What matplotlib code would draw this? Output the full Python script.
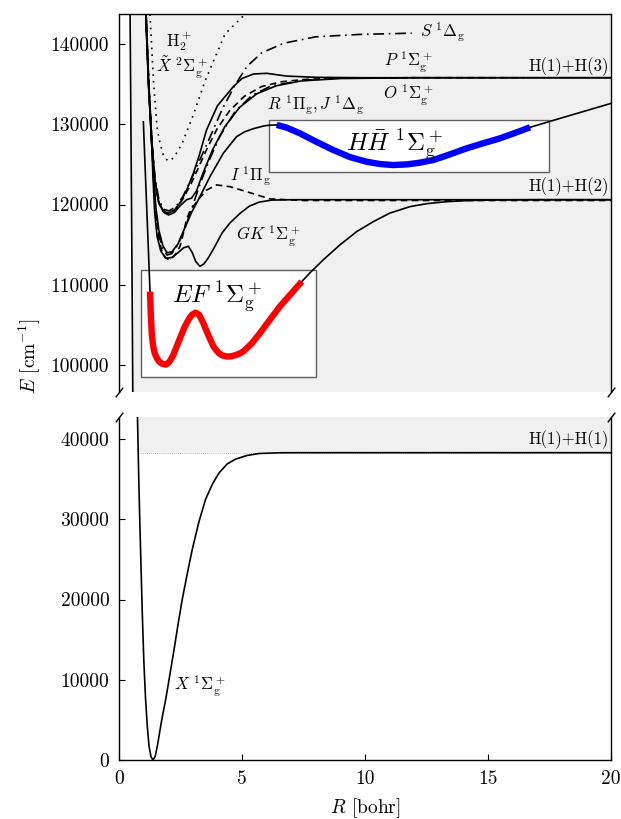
import numpy as np
import matplotlib
matplotlib.use("Agg")
import matplotlib.pyplot as plt
from matplotlib.patches import Rectangle

plt.rcParams.update({
    "font.family": "serif",
    "font.serif": ["cmr10"],
    "mathtext.fontset": "cm",
    "axes.formatter.use_mathtext": True,
    "axes.unicode_minus": False,
    "font.size": 14,
})

# Dissociation limits [cm^-1]
D_11 = 38300.0     # H(1)+H(1)

# Ground state X 1Sigma_g+
X_R = [0.40, 0.45, 0.49, 0.53, 0.56, 0.60, 0.65, 0.70, 0.75, 0.80, 0.84, 0.90, 0.95, 1.01,
       1.08, 1.15, 1.22, 1.30, 1.38, 1.47, 1.56, 1.65, 1.72, 1.80, 1.90, 2.05, 2.24, 2.40,
       2.57, 2.78, 2.98, 3.25, 3.52, 3.80, 4.07, 4.40, 4.74, 5.20, 5.69, 6.50, 7.30, 10.0, 20.0]
X_E = [170000, 143700, 127500, 111000, 96600, 80000, 64000, 52000, 42900, 35500, 30420,
       23500, 17950, 12300, 7600, 4200, 1750, 400, 0, 450, 1750, 3400, 4700, 6000, 7570,
       10300, 13800, 16900, 20000, 23300, 26270, 29700, 32500, 34400, 35800, 36900, 37500,
       37950, 38200, 38290, 38300, 38300, 38300]

# H2+ ion ground state
ION_R = [1.26, 1.40, 1.55, 1.67, 1.80, 1.90, 2.00, 2.14, 2.28, 2.55, 3.00, 3.50, 4.31, 5.12, 5.40]
ION_E = [143700, 135400, 129500, 127600, 126200, 125700, 125450, 125600, 126100, 127500,
         131000, 135400, 141250, 143700, 144500]

# EF 1Sigma_g+
EF_R = [0.99, 1.08, 1.17, 1.26, 1.29, 1.33, 1.38, 1.45, 1.53, 1.63, 1.75, 1.91, 2.05, 2.20,
        2.34, 2.50, 2.66, 2.82, 2.96, 3.11, 3.26, 3.43, 3.62, 3.84, 4.05, 4.20, 4.38, 4.55,
        4.70, 4.88, 5.05, 5.40, 5.73, 6.10, 6.54, 7.00, 7.43, 7.80, 8.30, 8.98, 9.66, 10.34,
        11.0, 11.83, 12.5, 13.3, 14.2, 15.5, 17.0, 20.0]
EF_E = [130300, 123200, 116300, 109150, 106500, 104000, 102500, 101500, 100900, 100450,
        100150, 100050, 100400, 101200, 102280, 103500, 104700, 105620, 106250, 106530,
        106250, 105210, 103800, 102300, 101500, 101200, 101060, 101080, 101200, 101400,
        101680, 102700, 103970, 105500, 107300, 108900, 110400, 111600, 113100, 114970,
        116620, 117870, 118920, 119740, 120100, 120350, 120500, 120580, 120600, 120600]
EF_HIGHLIGHT = (1.26, 7.43)

# GK 1Sigma_g+
GK_R = [1.09, 1.20, 1.33, 1.38, 1.45, 1.55, 1.70, 1.90, 2.15, 2.40, 2.62, 2.82, 2.98, 3.12,
        3.29, 3.45, 3.62, 3.83, 4.20, 4.51, 4.92, 5.30, 5.70, 6.20, 7.00, 20.0]
GK_E = [143700, 135000, 127500, 123500, 119000, 116000, 114200, 113300, 113400, 114000,
        114600, 114800, 114000, 112900, 112300, 112600, 113300, 114400, 116500, 117700,
        118900, 119800, 120300, 120550, 120600, 120600]

# I 1Pi_g
I_R = [1.10, 1.21, 1.34, 1.40, 1.48, 1.58, 1.72, 1.88, 2.05, 2.21, 2.35, 2.48, 2.60, 2.75,
       2.90, 3.05, 3.30, 3.56, 3.97, 4.50, 5.19, 6.14, 7.50, 20.0]
I_E = [143700, 135000, 127600, 123600, 119300, 116400, 114400, 113400, 113100, 113500,
       114000, 114800, 116200, 118200, 119300, 119900, 120900, 121800, 122440, 122230,
       121600, 120700, 120500, 120500]

# J 1Delta_g
J_R = [1.10, 1.21, 1.34, 1.41, 1.50, 1.62, 1.78, 1.95, 2.15, 2.40, 2.70, 3.00, 3.30, 3.65,
       4.10, 4.70, 5.40, 6.20, 7.50, 9.00, 12.0]
J_E = [143700, 135000, 127600, 123000, 119000, 116300, 114500, 113700, 113900, 115000,
       117200, 119900, 122600, 125400, 128500, 131500, 133600, 134800, 135500, 135750, 135800]

# H Hbar 1Sigma_g+
HH_R = [1.09, 1.20, 1.33, 1.41, 1.50, 1.62, 1.78, 1.95, 2.15, 2.40, 2.65, 2.95, 3.29, 3.70,
        4.24, 4.78, 5.10, 5.46, 5.90, 6.11, 6.41, 6.80, 7.36, 8.00, 8.71, 9.40, 10.07, 10.60,
        11.15, 11.70, 12.20, 12.78, 13.45, 14.13, 14.80, 15.49, 16.10, 16.71, 18.0, 20.0]
HH_E = [143700, 135000, 127500, 123300, 119600, 116800, 114900, 114000, 114100, 115100,
        116900, 119000, 120990, 123480, 126390, 128460, 129050, 129450, 129800, 129880,
        129920, 129600, 128870, 127850, 126790, 125900, 125330, 125050, 124920, 125000,
        125200, 125545, 126250, 127000, 127630, 128250, 128920, 129620, 130800, 132600]
HH_HIGHLIGHT = (6.41, 16.71)

# P 1Sigma_g+
P_R = [1.09, 1.20, 1.33, 1.45, 1.60, 1.80, 2.00, 2.25, 2.50, 2.75, 3.00, 3.25, 3.56, 4.00,
       4.65, 5.00, 5.46, 6.00, 6.82, 8.04, 10.0, 20.0]
P_E = [143700, 135000, 127600, 123200, 120400, 119200, 118900, 119300, 120300, 121800,
       123700, 126000, 129300, 132300, 134700, 135700, 136260, 136350, 136000, 135850,
       135800, 135800]

# O 1Sigma_g+
O_R = [1.10, 1.21, 1.34, 1.46, 1.62, 1.82, 2.02, 2.25, 2.50, 2.75, 2.95, 3.15, 3.40, 3.80,
       4.30, 4.90, 5.60, 6.40, 7.40, 9.00, 12.0, 20.0]
O_E = [143700, 135000, 127600, 123000, 120200, 119000, 118700, 119000, 119900, 120600,
       120800, 121700, 123800, 126800, 129700, 132100, 133800, 134800, 135400, 135700,
       135800, 135800]

# R 1Pi_g
RP_R = [1.10, 1.21, 1.34, 1.47, 1.63, 1.83, 2.03, 2.30, 2.60, 2.90, 3.20, 3.60, 4.00, 4.50,
        5.10, 5.80, 6.60, 7.60, 9.00, 12.0, 16.5]
RP_E = [143700, 135000, 127600, 122900, 120100, 119100, 118900, 119400, 120700, 122400,
        124400, 127100, 129500, 131700, 133500, 134700, 135300, 135600, 135750, 135800, 135800]

# S 1Delta_g
S_R = [1.10, 1.21, 1.34, 1.47, 1.63, 1.83, 2.03, 2.30, 2.60, 2.90, 3.20, 3.60, 4.20, 4.70,
       5.20, 5.80, 6.70, 8.00, 9.80, 11.9]
S_E = [143700, 135000, 127600, 123100, 120500, 119400, 119200, 119700, 121000, 122900,
       125000, 127700, 131900, 134800, 137200, 138900, 140100, 140900, 141200, 141350]

# Axis ranges and ticks
XLIM = (0, 20)
TOP_YLIM = (96640, 143740)
BOT_YLIM = (0, 42750)
X_TICKS = [0, 5, 10, 15, 20]
TOP_TICKS = [100000, 110000, 120000, 130000, 140000]
BOT_TICKS = [0, 10000, 20000, 30000, 40000]

GRAY = "#f0f0f0"
LW = 1.2
DASHED = (0, (4.0, 2.6))
DASHDOT = (0, (6.5, 2.8, 1.0, 2.8))
DOTTED = (0, (1.0, 3.0))

fig = plt.figure(figsize=(6.21, 8.19), dpi=100)
ax_top = fig.add_axes([119 / 621, 1 - 392 / 819, 492 / 621, 378 / 819])
ax_bot = fig.add_axes([119 / 621, 1 - 760 / 819, 492 / 621, 343 / 819])

xr = np.array(X_R)
xe = np.array(X_E, dtype=float)
lower = np.maximum(xe, D_11)

for ax, ylim in ((ax_top, TOP_YLIM), (ax_bot, BOT_YLIM)):
    ax.set_xlim(*XLIM)
    ax.set_ylim(*ylim)
    ax.fill_between(xr, lower, 1e6, color=GRAY, lw=0, zorder=0)
    ax.plot(xr, xe, color="k", lw=LW, zorder=3, solid_joinstyle="round")
    for s in ax.spines.values():
        s.set_linewidth(1.0)
    ax.tick_params(direction="in", length=4, width=0.8, pad=7, labelsize=14)

# continuum threshold in the lower panel
imin = int(np.argmin(xe))
x_cross = np.interp(D_11, xe[:imin + 1][::-1], xr[:imin + 1][::-1])
ax_bot.plot([x_cross, XLIM[1]], [D_11, D_11], color="#9a9a9a", lw=0.6,
            ls=(0, (1, 1.5)), zorder=1)

# boxes behind the highlighted wells
ax_top.add_patch(Rectangle((0.89, 98530), 8.01 - 0.89, 111856 - 98530,
                           facecolor="white", edgecolor="#606060", lw=1.0, zorder=1))
ax_top.add_patch(Rectangle((6.10, 124060), 17.48 - 6.10, 130535 - 124060,
                           facecolor="white", edgecolor="#606060", lw=1.0, zorder=1))

def curve(R, E, **kw):
    kw.setdefault("color", "k")
    kw.setdefault("lw", LW)
    kw.setdefault("zorder", 3)
    ax_top.plot(R, E, solid_joinstyle="round", **kw)

curve(ION_R, ION_E, ls=DOTTED)
curve(P_R, P_E)
curve(O_R, O_E)
curve(RP_R, RP_E, ls=DASHED)
curve(S_R, S_E, ls=DASHDOT)
curve(J_R, J_E, ls=DASHDOT)
curve(I_R, I_E, ls=DASHED)
curve(GK_R, GK_E)
curve(HH_R, HH_E)
curve(EF_R, EF_E)

def highlight(R, E, span, color):
    R = np.array(R)
    E = np.array(E)
    m = (R >= span[0] - 1e-9) & (R <= span[1] + 1e-9)
    ax_top.plot(R[m], E[m], color=color, lw=4.6, solid_capstyle="butt",
                solid_joinstyle="round", zorder=4)

highlight(EF_R, EF_E, EF_HIGHLIGHT, "#ff0000")
highlight(HH_R, HH_E, HH_HIGHLIGHT, "#0000ff")

# axis cosmetics for the broken axis
ax_top.spines["bottom"].set_visible(False)
ax_bot.spines["top"].set_visible(False)
ax_top.tick_params(bottom=False, labelbottom=False)
ax_top.set_xticks([])
ax_bot.set_xticks(X_TICKS)
ax_bot.set_xticklabels([str(v) for v in X_TICKS])
ax_top.set_yticks(TOP_TICKS)
ax_top.set_yticklabels([str(v) for v in TOP_TICKS])
ax_bot.set_yticks(BOT_TICKS)
ax_bot.set_yticklabels([str(v) for v in BOT_TICKS])

kw = dict(marker=[(-1, -1.3), (1, 1.3)], markersize=7, linestyle="none",
          color="k", mec="k", mew=1.0, clip_on=False)
ax_top.plot([0, 1], [0, 0], transform=ax_top.transAxes, **kw)
ax_bot.plot([0, 1], [1, 1], transform=ax_bot.transAxes, **kw)

ax_bot.set_xlabel(r"$R$ [bohr]", fontsize=14, labelpad=6)
fig.text(30 / 621, 1 - 356 / 819, r"$E$ [cm$^{-1}$]", rotation=90,
         ha="center", va="center", fontsize=14)

# state labels
small = 12
ax_top.text(2.44, 139600, r"$\mathrm{H}_2^+$", ha="center", va="baseline", fontsize=small)
ax_top.text(2.55, 136450, r"$\tilde{X}\ ^2\Sigma_\mathrm{g}^+$", ha="center", va="baseline", fontsize=small)
ax_top.text(12.25, 141500, r"$S\ ^1\Delta_\mathrm{g}$", ha="left", va="center", fontsize=small)
ax_top.text(11.75, 137760, r"$P\ ^1\Sigma_\mathrm{g}^+$", ha="center", va="center", fontsize=small)
ax_top.text(19.9, 137200, "H(1)+H(3)", ha="right", va="center", fontsize=small)
ax_top.text(11.75, 133650, r"$O\ ^1\Sigma_\mathrm{g}^+$", ha="center", va="center", fontsize=small)
ax_top.text(8.0, 132400, r"$R\ ^1\Pi_\mathrm{g}, J\ ^1\Delta_\mathrm{g}$", ha="center", va="center", fontsize=small)
ax_top.text(5.33, 123560, r"$I\ ^1\Pi_\mathrm{g}$", ha="center", va="center", fontsize=small)
ax_top.text(19.9, 122250, "H(1)+H(2)", ha="right", va="center", fontsize=small)
ax_top.text(6.06, 116090, r"$GK\ ^1\Sigma_\mathrm{g}^+$", ha="center", va="center", fontsize=small)
ax_top.text(4.0, 108500, r"$EF\ ^1\Sigma_\mathrm{g}^+$", ha="center", va="center", fontsize=18, zorder=5)
ax_top.text(11.22, 127420, r"$H\bar{H}\ ^1\Sigma_\mathrm{g}^+$", ha="center", va="center", fontsize=18, zorder=5)
ax_bot.text(19.9, 39900, "H(1)+H(1)", ha="right", va="center", fontsize=small)
ax_bot.text(3.29, 9230, r"$X\ ^1\Sigma_\mathrm{g}^+$", ha="center", va="center", fontsize=small)

fig.savefig("out.png", dpi=100)
